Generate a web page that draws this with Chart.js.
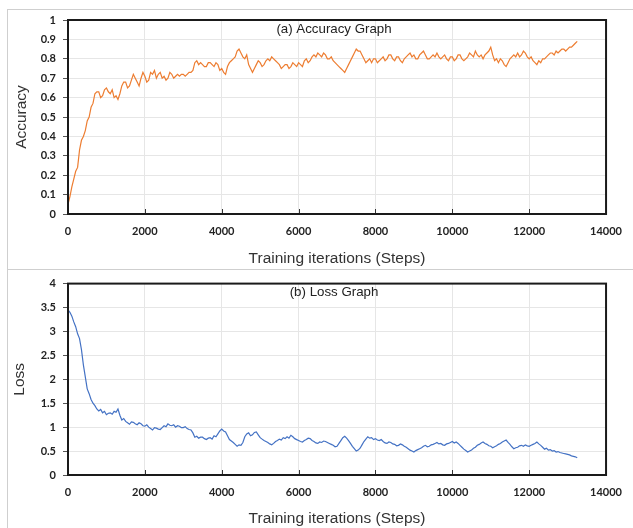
<!DOCTYPE html>
<html>
<head>
<meta charset="utf-8">
<script src="https://cdn.jsdelivr.net/npm/chart.js@4/dist/chart.umd.min.js"></script>
<style>
    body { margin: 0; background: #fff; width: 633px; height: 528px; overflow: hidden; position: relative; }
    #frame { position: absolute; left: 7px; top: 9px; width: 700px; height: 600px; border: 1px solid #cfcfcf; }
    #sep { position: absolute; left: 7px; top: 269px; width: 700px; height: 0; border-top: 1px solid #cfcfcf; }
    canvas { position: absolute; left: 0; }
    #accChart { top: 0; }
    #lossChart { top: 270px; }
</style>
</head>
<body>
<div id="frame"></div>
<div id="sep"></div>
<canvas id="accChart" width="633" height="270"></canvas>
<canvas id="lossChart" width="633" height="258"></canvas>
<script>
// training steps
const steps = [
    0, 50, 100, 150, 200, 250, 300, 350, 400, 450, 500, 550, 600, 650, 700, 750, 800, 850, 900, 950,
    1000, 1050, 1100, 1150, 1200, 1250, 1300, 1350, 1400, 1450, 1500, 1550, 1600, 1650, 1700, 1750, 1800, 1850, 1900, 1950,
    2000, 2050, 2100, 2150, 2200, 2250, 2300, 2350, 2400, 2450, 2500, 2550, 2600, 2650, 2700, 2750, 2800, 2850, 2900, 2950,
    3000, 3050, 3100, 3150, 3200, 3250, 3300, 3350, 3400, 3450, 3500, 3550, 3600, 3650, 3700, 3750, 3800, 3850, 3900, 3950,
    4000, 4050, 4100, 4150, 4200, 4250, 4300, 4350, 4400, 4450, 4500, 4550, 4600, 4650, 4700, 4750, 4800, 4850, 4900, 4950,
    5000, 5050, 5100, 5150, 5200, 5250, 5300, 5350, 5400, 5450, 5500, 5550, 5600, 5650, 5700, 5750, 5800, 5850, 5900, 5950,
    6000, 6050, 6100, 6150, 6200, 6250, 6300, 6350, 6400, 6450, 6500, 6550, 6600, 6650, 6700, 6750, 6800, 6850, 6900, 6950,
    7000, 7050, 7100, 7150, 7200, 7250, 7300, 7350, 7400, 7450, 7500, 7550, 7600, 7650, 7700, 7750, 7800, 7850, 7900, 7950,
    8000, 8050, 8100, 8150, 8200, 8250, 8300, 8350, 8400, 8450, 8500, 8550, 8600, 8650, 8700, 8750, 8800, 8850, 8900, 8950,
    9000, 9050, 9100, 9150, 9200, 9250, 9300, 9350, 9400, 9450, 9500, 9550, 9600, 9650, 9700, 9750, 9800, 9850, 9900, 9950,
    10000, 10050, 10100, 10150, 10200, 10250, 10300, 10350, 10400, 10450, 10500, 10550, 10600, 10650, 10700, 10750, 10800, 10850, 10900, 10950,
    11000, 11050, 11100, 11150, 11200, 11250, 11300, 11350, 11400, 11450, 11500, 11550, 11600, 11650, 11700, 11750, 11800, 11850, 11900, 11950,
    12000, 12050, 12100, 12150, 12200, 12250, 12300, 12350, 12400, 12450, 12500, 12550, 12600, 12650, 12700, 12750, 12800, 12850, 12900, 12950,
    13000, 13050, 13100, 13150, 13200, 13250
];

const accuracy = [
    0.05, 0.09, 0.14, 0.18, 0.22, 0.24, 0.33, 0.38, 0.40, 0.43, 0.48, 0.50, 0.55, 0.57, 0.62, 0.63, 0.63, 0.60, 0.61, 0.64,
    0.65, 0.63, 0.62, 0.64, 0.60, 0.61, 0.59, 0.62, 0.66, 0.68, 0.68, 0.65, 0.66, 0.69, 0.72, 0.70, 0.68, 0.66, 0.70, 0.73,
    0.71, 0.68, 0.69, 0.73, 0.72, 0.74, 0.70, 0.72, 0.73, 0.70, 0.71, 0.69, 0.70, 0.73, 0.72, 0.70, 0.71, 0.72, 0.71, 0.72,
    0.72, 0.71, 0.72, 0.73, 0.73, 0.74, 0.78, 0.79, 0.77, 0.78, 0.77, 0.76, 0.76, 0.78, 0.78, 0.77, 0.76, 0.78, 0.77, 0.74,
    0.75, 0.73, 0.72, 0.76, 0.78, 0.79, 0.80, 0.81, 0.84, 0.85, 0.83, 0.81, 0.80, 0.82, 0.77, 0.75, 0.73, 0.75, 0.77, 0.79,
    0.78, 0.76, 0.77, 0.79, 0.80, 0.79, 0.81, 0.80, 0.79, 0.78, 0.77, 0.75, 0.76, 0.77, 0.77, 0.75, 0.76, 0.78, 0.77, 0.76,
    0.78, 0.77, 0.76, 0.79, 0.80, 0.78, 0.79, 0.81, 0.82, 0.81, 0.83, 0.82, 0.81, 0.83, 0.82, 0.80, 0.80, 0.81, 0.79, 0.78,
    0.77, 0.76, 0.75, 0.74, 0.73, 0.75, 0.77, 0.79, 0.81, 0.83, 0.85, 0.84, 0.84, 0.82, 0.80, 0.78, 0.79, 0.80, 0.78, 0.80,
    0.80, 0.78, 0.79, 0.80, 0.81, 0.79, 0.80, 0.82, 0.82, 0.80, 0.79, 0.81, 0.81, 0.79, 0.78, 0.80, 0.81, 0.82, 0.83, 0.81,
    0.82, 0.80, 0.80, 0.82, 0.83, 0.84, 0.82, 0.80, 0.80, 0.81, 0.82, 0.81, 0.83, 0.81, 0.80, 0.81, 0.82, 0.80, 0.79, 0.81,
    0.81, 0.79, 0.80, 0.82, 0.82, 0.80, 0.79, 0.80, 0.81, 0.83, 0.82, 0.81, 0.84, 0.82, 0.81, 0.82, 0.80, 0.82, 0.83, 0.84,
    0.86, 0.82, 0.79, 0.80, 0.78, 0.80, 0.79, 0.77, 0.76, 0.78, 0.80, 0.81, 0.82, 0.81, 0.83, 0.81, 0.82, 0.84, 0.83, 0.81,
    0.80, 0.81, 0.79, 0.78, 0.77, 0.79, 0.78, 0.80, 0.80, 0.81, 0.82, 0.83, 0.83, 0.82, 0.84, 0.83, 0.84, 0.85, 0.85, 0.84,
    0.85, 0.86, 0.86, 0.87, 0.88, 0.89
];

const loss = [
    3.45, 3.40, 3.32, 3.20, 3.10, 2.95, 2.85, 2.62, 2.30, 2.05, 1.80, 1.70, 1.58, 1.50, 1.45, 1.38, 1.34, 1.37, 1.30, 1.33,
    1.26, 1.29, 1.30, 1.27, 1.33, 1.31, 1.38, 1.25, 1.15, 1.18, 1.12, 1.09, 1.06, 1.11, 1.10, 1.07, 1.05, 1.09, 1.07, 1.03,
    1.02, 1.05, 1.00, 0.97, 0.94, 0.99, 0.98, 0.96, 0.95, 0.99, 1.03, 1.01, 1.07, 1.04, 1.03, 1.05, 1.00, 1.03, 1.02, 0.99,
    0.99, 1.01, 0.97, 0.95, 0.94, 0.88, 0.79, 0.81, 0.77, 0.79, 0.79, 0.76, 0.74, 0.77, 0.78, 0.75, 0.82, 0.80, 0.86, 0.92,
    0.96, 0.92, 0.90, 0.82, 0.74, 0.71, 0.68, 0.64, 0.60, 0.63, 0.62, 0.68, 0.80, 0.86, 0.88, 0.82, 0.84, 0.89, 0.90, 0.84,
    0.78, 0.75, 0.72, 0.70, 0.68, 0.65, 0.63, 0.66, 0.70, 0.72, 0.75, 0.73, 0.78, 0.76, 0.80, 0.77, 0.83, 0.80, 0.76, 0.74,
    0.72, 0.70, 0.69, 0.72, 0.74, 0.77, 0.76, 0.72, 0.70, 0.67, 0.66, 0.69, 0.68, 0.71, 0.70, 0.68, 0.66, 0.64, 0.62, 0.59,
    0.60, 0.66, 0.72, 0.78, 0.81, 0.77, 0.72, 0.66, 0.60, 0.55, 0.50, 0.52, 0.56, 0.63, 0.70, 0.75, 0.80, 0.77, 0.78, 0.74,
    0.76, 0.73, 0.72, 0.74, 0.70, 0.67, 0.66, 0.69, 0.68, 0.65, 0.64, 0.61, 0.62, 0.65, 0.63, 0.60, 0.58, 0.55, 0.52, 0.50,
    0.48, 0.51, 0.53, 0.55, 0.57, 0.60, 0.62, 0.59, 0.60, 0.63, 0.64, 0.66, 0.68, 0.65, 0.66, 0.63, 0.62, 0.65, 0.66, 0.68,
    0.70, 0.67, 0.69, 0.66, 0.62, 0.58, 0.54, 0.51, 0.48, 0.50, 0.52, 0.56, 0.58, 0.62, 0.64, 0.67, 0.69, 0.66, 0.64, 0.61,
    0.60, 0.57, 0.59, 0.61, 0.64, 0.66, 0.69, 0.71, 0.73, 0.68, 0.64, 0.59, 0.55, 0.57, 0.58, 0.61, 0.62, 0.60, 0.63, 0.61,
    0.60, 0.62, 0.64, 0.66, 0.69, 0.65, 0.62, 0.58, 0.54, 0.56, 0.52, 0.53, 0.50, 0.51, 0.48, 0.49, 0.47, 0.46, 0.45, 0.44,
    0.43, 0.42, 0.40, 0.39, 0.38, 0.36
];

// tick labels
const stepTicks = [0, 2000, 4000, 6000, 8000, 10000, 12000, 14000];
const accTicks = [0, 0.1, 0.2, 0.3, 0.4, 0.5, 0.6, 0.7, 0.8, 0.9, 1];
const lossTicks = [0, 0.5, 1, 1.5, 2, 2.5, 3, 3.5, 4];

const tickFont = { family: 'Lato', size: 11, weight: 'bold' };
const titleFont = { family: 'Liberation Sans', size: 15.5 };

// frame around plot, inside x ticks and the graph caption
const plotFrame = {
    id: 'plotFrame',
    afterDraw(chart, args, opts) {
        const { ctx, chartArea: a, scales: { x } } = chart;
        ctx.save();
        ctx.strokeStyle = '#333';
        ctx.lineWidth = 1;
        for (let t of x.ticks) {
            let px = Math.round(x.getPixelForValue(t.value)) + 0.5;
            ctx.beginPath();
            ctx.moveTo(px, a.bottom);
            ctx.lineTo(px, a.bottom - 5);
            ctx.stroke();
        }
        ctx.strokeStyle = '#1a1a1a';
        ctx.lineWidth = 2;
        ctx.strokeRect(a.left, a.top, a.right - a.left, a.bottom - a.top);
        ctx.font = '13.3px "Liberation Sans"';
        ctx.fillStyle = '#222';
        ctx.textAlign = 'center';
        ctx.textBaseline = 'middle';
        ctx.fillText(opts.text, (a.left + a.right) / 2 - 3, a.top + 9);
        ctx.restore();
    }
};

function makeConfig(values, color, yTicks, yMax, yTitle, caption, c) {
    return {
        type: 'line',
        data: {
            datasets: [{
                data: steps.map((s, i) => ({ x: s, y: values[i] })),
                borderColor: color,
                borderWidth: 1.2,
                pointRadius: 0,
                tension: 0
            }]
        },
        options: {
            responsive: false,
            animation: false,
            devicePixelRatio: 1,
            layout: { padding: { left: 0, right: 19, top: c.top, bottom: 0 } },
            plugins: {
                legend: { display: false },
                tooltip: { enabled: false },
                plotFrame: { text: caption }
            },
            scales: {
                x: {
                    type: 'linear',
                    min: 0,
                    max: 14000,
                    afterBuildTicks: (s) => { s.ticks = stepTicks.map(v => ({ value: v })); },
                    afterFit: (s) => { s.height = c.xHeight; },
                    grid: { color: '#e6e6e6', drawTicks: false },
                    border: { display: false },
                    ticks: { font: tickFont, color: '#222', padding: c.xPad, maxRotation: 0, callback: (v) => String(v) },
                    title: { display: true, text: 'Training iterations (Steps)', font: titleFont, color: '#333', padding: { top: 0, bottom: c.titlePad } }
                },
                y: {
                    min: 0,
                    max: yMax,
                    afterBuildTicks: (s) => { s.ticks = yTicks.map(v => ({ value: v })); },
                    afterFit: (s) => { s.width = 68; },
                    grid: { color: '#e6e6e6', tickLength: 5, tickColor: '#555' },
                    border: { display: false },
                    ticks: { font: tickFont, color: '#222', padding: 7, callback: (v) => String(v) },
                    title: { display: true, text: yTitle, font: titleFont, color: '#333', padding: { top: c.yTitlePad, bottom: 0 } }
                }
            }
        },
        plugins: [plotFrame]
    };
}

new Chart(document.getElementById('accChart'),
    makeConfig(accuracy, '#ED7D31', accTicks, 1, 'Accuracy', '(a) Accuracy Graph',
        { top: 20, xHeight: 56, xPad: 11, titlePad: 2, yTitlePad: 12 }));

new Chart(document.getElementById('lossChart'),
    makeConfig(loss, '#4472C4', lossTicks, 4, 'Loss', '(b) Loss Graph',
        { top: 12, xHeight: 53, xPad: 11, titlePad: 0, yTitlePad: 10 }));
</script>
</body>
</html>
